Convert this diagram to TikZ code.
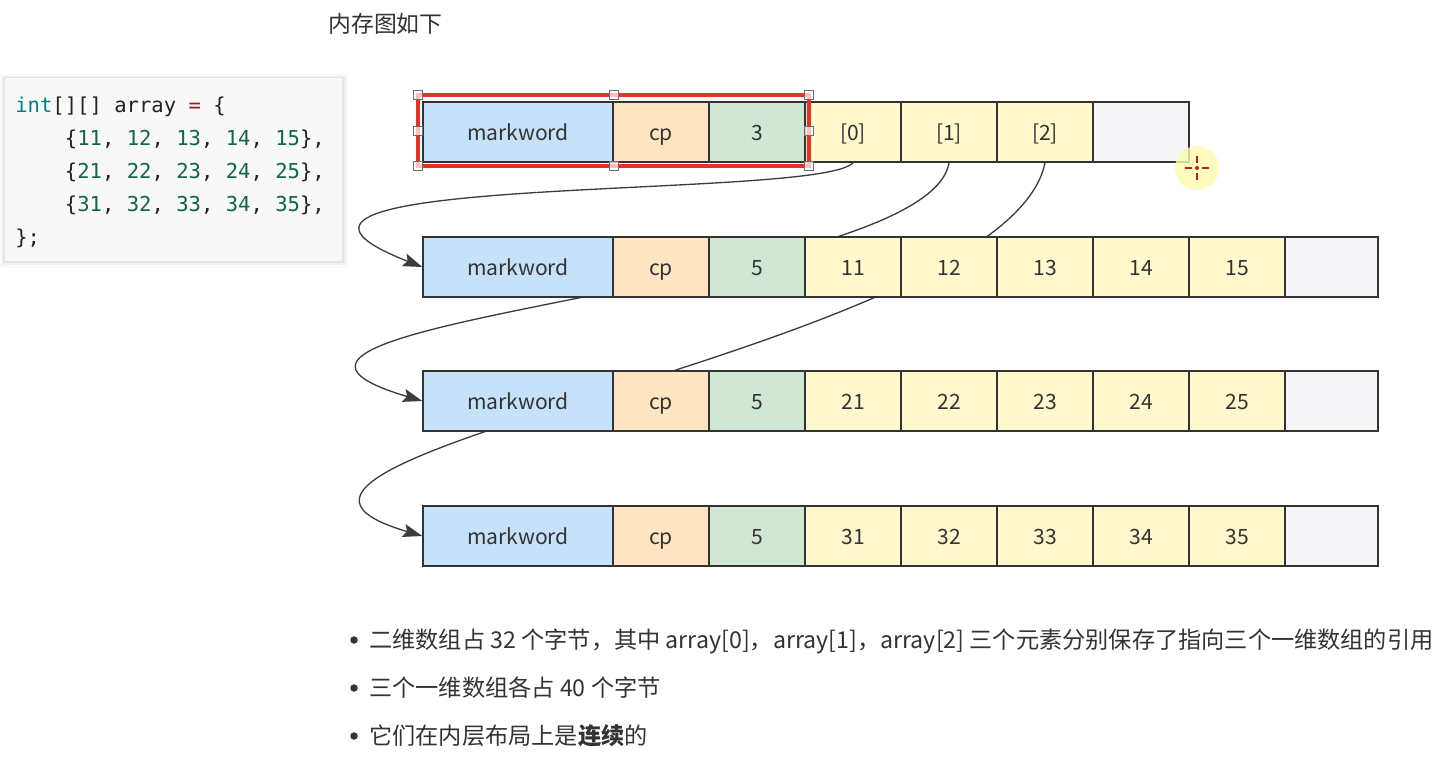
\documentclass[tikz,border=0pt]{standalone}
\usepackage{fontspec}
\setmainfont{Noto Sans CJK SC}
\newfontfamily\codefont{DejaVu Sans Mono}
\usetikzlibrary{arrows.meta}
\definecolor{cblue}{RGB}{198,225,250}
\definecolor{cpeach}{RGB}{255,229,193}
\definecolor{cgreen}{RGB}{208,231,212}
\definecolor{cyellow}{RGB}{255,248,204}
\definecolor{cgray}{RGB}{245,245,247}
\definecolor{cellborder}{RGB}{51,51,51}
\definecolor{textc}{RGB}{51,51,51}
\definecolor{linec}{RGB}{60,60,60}
\definecolor{selred}{RGB}{228,50,40}
\definecolor{codebg}{RGB}{248,248,248}
\definecolor{kw}{RGB}{0,128,128}
\definecolor{num}{RGB}{17,102,68}
\definecolor{op}{RGB}{152,26,26}
\definecolor{codetext}{RGB}{34,34,34}
\definecolor{cursory}{RGB}{255,250,175}
\definecolor{cursorr}{RGB}{190,30,20}
\pgfdeclarelayer{bg0}
\pgfdeclarelayer{background}
\pgfsetlayers{bg0,background,main}
\newcommand\nm[1]{\textcolor{num}{#1}}
\begin{document}
\begin{tikzpicture}[x=0.02cm,y=-0.02cm,
  cell/.style={draw=cellborder, line width=0.8pt, minimum height=1.2cm, minimum width=1.92cm,
    inner sep=0pt, text=textc, font=\fontsize{12}{14}\selectfont, text height=11pt, text depth=1.4pt},
  mw/.style={cell, fill=cblue, minimum width=3.8cm},
  cpc/.style={cell, fill=cpeach},
  lenc/.style={cell, fill=cgreen},
  elc/.style={cell, fill=cyellow},
  padc/.style={cell, fill=cgray},
  refline/.style={draw=linec, line width=0.75pt, -{Stealth[length=11pt,width=7.5pt,inset=2pt]}},
  handle/.style={draw={rgb,255:red,110;green,110;blue,110}, fill=white, fill opacity=0.7, line width=0.45pt, minimum size=0.18cm, inner sep=0pt},
  codeline/.style={anchor=base west, inner sep=0pt, font=\codefont\fontsize{11.7}{14}\selectfont, text=codetext},
  para/.style={anchor=base west, inner sep=0pt, font=\fontsize{13.2}{15}\selectfont, text=textc},
  bullet/.style={circle, fill=textc, minimum size=0.15cm, inner sep=0pt}
]
\useasboundingbox (0,0) rectangle (1456,780);
\begin{pgfonlayer}{bg0}
  \fill[white] (0,0) rectangle (1456,780);
\end{pgfonlayer}

% code block
\fill[black, opacity=0.025] (0,74) rectangle (348,268);
\fill[black, opacity=0.035] (2,76) rectangle (346,265);
\fill[black, opacity=0.045] (3,77) rectangle (344,263);
\node[fill=codebg, minimum width=6.74cm, minimum height=3.66cm, inner sep=0pt] (code) at (173.5,169.5) {};
\node[codeline] (cl1) at (15,113) {\textcolor{kw}{int}[][] array \textcolor{op}{=} \{};
\node[codeline] (cl2) at (64.6,146) {\{\nm{11}, \nm{12}, \nm{13}, \nm{14}, \nm{15}\},};
\node[codeline] (cl3) at (64.6,179) {\{\nm{21}, \nm{22}, \nm{23}, \nm{24}, \nm{25}\},};
\node[codeline] (cl4) at (64.6,212) {\{\nm{31}, \nm{32}, \nm{33}, \nm{34}, \nm{35}\},};
\node[codeline] (cl5) at (15,245) {\};};

% title
\node[para, font=\fontsize{13}{15}\selectfont] (title) at (328,33) {内存图如下};

% row 1
\node[mw] (m1) at (518,132) {markword};
\node[cpc] (cp1) at (661,132) {cp};
\node[lenc] (n1) at (757,132) {3};
\node[elc] (a0) at (853,132) {[0]};
\node[elc] (a1) at (949,132) {[1]};
\node[elc] (a2) at (1045,132) {[2]};
\node[padc] (p1) at (1141,132) {};

% rows 2-4
\foreach \r/\y/\d in {2/267/1,3/401/2,4/536/3} {
  \node[mw] (m\r) at (518,\y) {markword};
  \node[cpc] (cp\r) at (661,\y) {cp};
  \node[lenc] (n\r) at (757,\y) {5};
  \foreach \k in {1,...,5} {
    \node[elc] (e\r\k) at ({757+96*\k},\y) {\d\k};
  }
  \node[padc, minimum width=1.86cm] (p\r) at (1331.5,\y) {};
}

% references (behind the arrays)
\begin{pgfonlayer}{background}
  \draw[refline] (a0.south) .. controls +(-33,38) and +(-243,-95) .. (m2.west);
  \draw[refline] (a1.south) .. controls +(-20,128) and +(-273,-81) .. (m3.west);
  \draw[refline] (a2.south) .. controls +(-37,188) and +(-273,-80) .. (m4.west);
\end{pgfonlayer}

% selection frame
\draw[selred, line width=2pt] (418,95) rectangle (809,166);
\foreach \hx/\hy [count=\i] in {418/95, 614/95, 809/95, 418/131, 809/131, 418/166, 614/166, 809/166}
  \node[handle] (h\i) at (\hx,\hy) {};

% cursor
\fill[cursory, opacity=0.8] (1197,168) circle [radius=0.44cm];
\draw[cursorr, line width=1.1pt] (1185,168) -- (1192,168) (1202,168) -- (1209,168)
  (1197,156) -- (1197,163) (1197,173) -- (1197,180);
\fill[cursorr] (1197,168) circle [radius=0.04cm];

% bullets
\node[bullet] (b1) at (354,640) {};
\node[para] (t1) at (369,648) {二维数组占 32 个字节，其中 array[0]，array[1]，array[2] 三个元素分别保存了指向三个一维数组的引用};
\node[bullet] (b2) at (354,688) {};
\node[para] (t2) at (369,696) {三个一维数组各占 40 个字节};
\node[bullet] (b3) at (354,736) {};
\node[para] (t3) at (369,744) {它们在内层布局上是\textbf{连续}的};
\end{tikzpicture}
\end{document}
